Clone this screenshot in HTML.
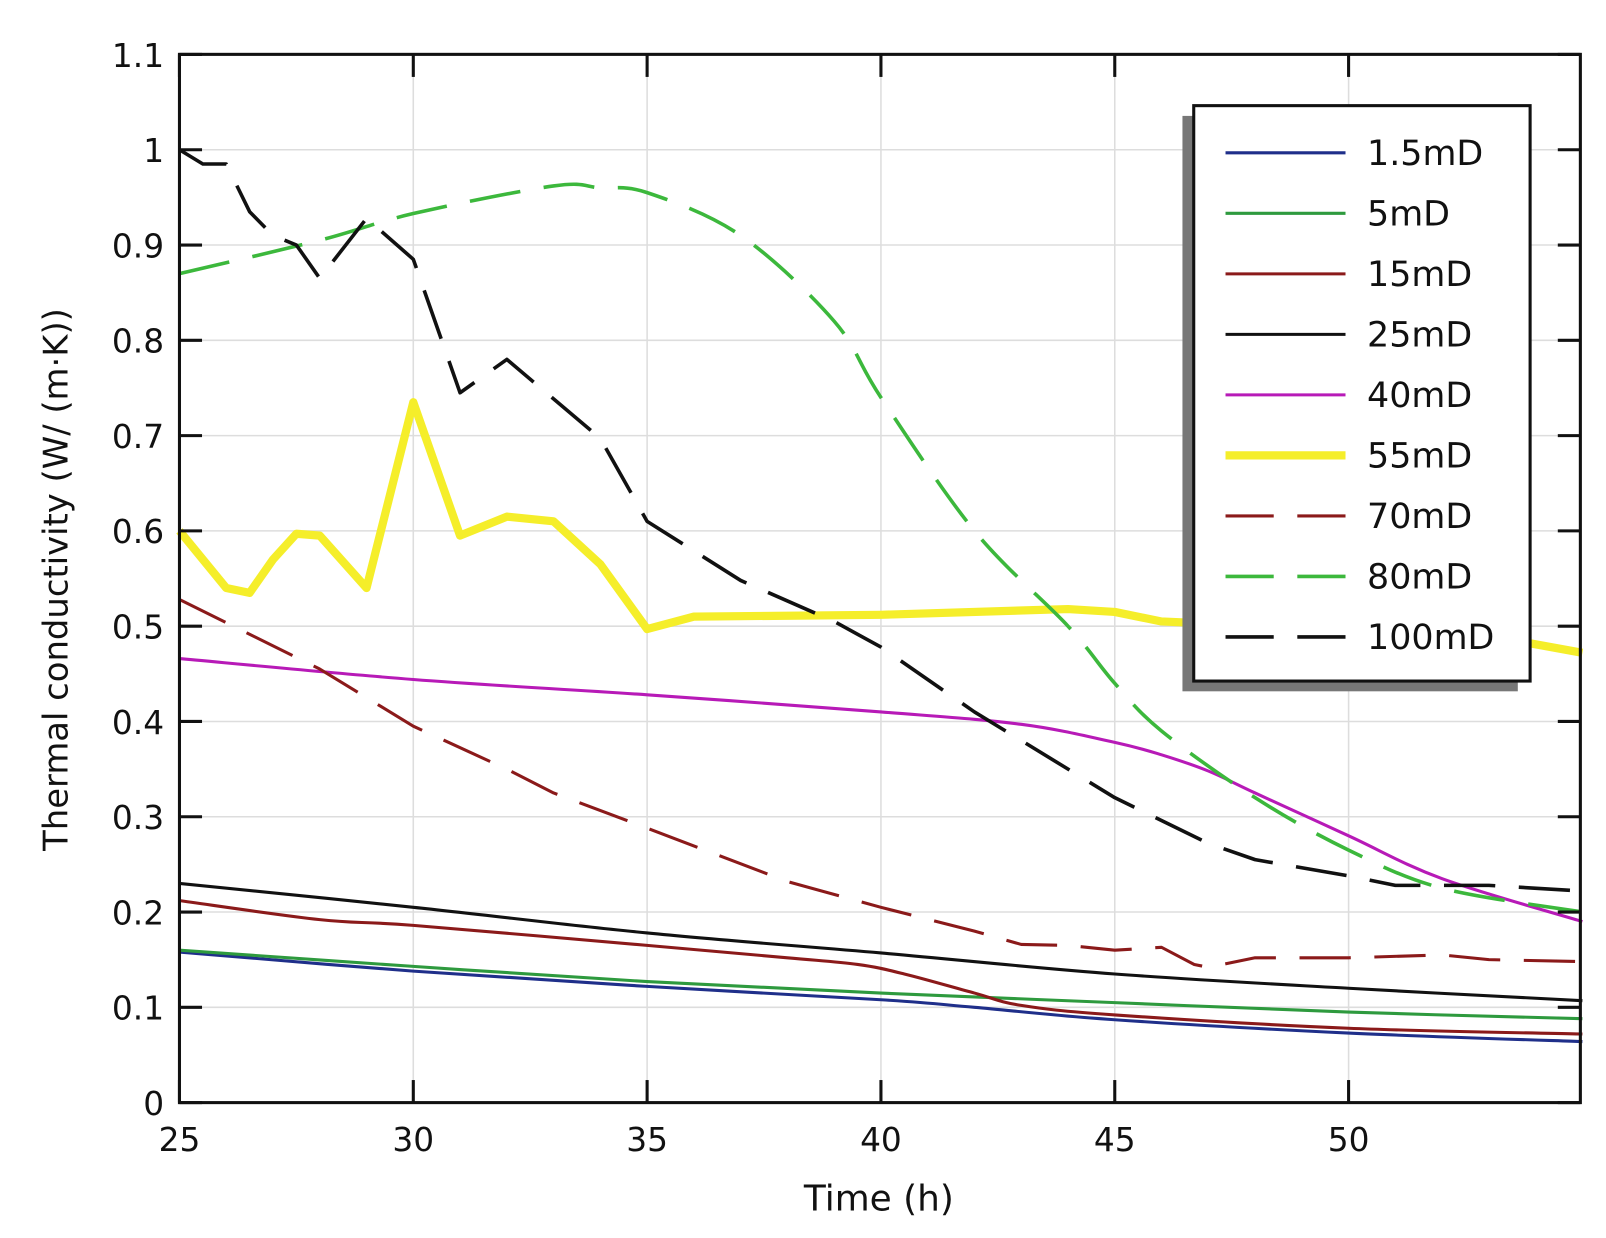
<!DOCTYPE html>
<html><head><meta charset="utf-8"><style>
html,body{margin:0;padding:0;background:#fff;}
svg{display:block;}
text{font-family:"DejaVu Sans","Liberation Sans",sans-serif;fill:#111;}
</style></head><body>
<svg id="s" width="1606" height="1238" viewBox="0 0 1566 1207" preserveAspectRatio="none" xmlns="http://www.w3.org/2000/svg">
<rect x="0" y="0" width="1566" height="1207" fill="#fff"/>
<g id="grid" stroke="#ddd" stroke-width="1.5"></g>
<g id="series" fill="none" stroke-linejoin="round" stroke-linecap="butt"></g>
<rect x="175" y="53" width="1366" height="1022" fill="none" stroke="#111" stroke-width="3"/>
<g id="ticks" stroke="#111" stroke-width="3"></g>
<g id="labels" font-size="32"></g>
<text x="857" y="1180" font-size="35" text-anchor="middle">Time   (h)</text>
<text transform="translate(66,565) rotate(-90)" font-size="33" text-anchor="middle">Thermal conductivity (W/ (m·K))</text>
<rect x="1153" y="113" width="327" height="561" fill="#777"/>
<rect x="1164" y="103" width="328" height="561" fill="#fff" stroke="#111" stroke-width="3"/>
<g id="legend" font-size="34"></g>
</svg>
<script>
const NS="http://www.w3.org/2000/svg";
const X=t=>175+45.6*(t-25), Y=v=>1075-92.9*v*10;
function el(p,tag,a,txt){const e=document.createElementNS(NS,tag);for(const k in a)e.setAttribute(k,a[k]);if(txt!=null)e.textContent=txt;document.getElementById(p).appendChild(e);return e;}
for(let t=30;t<=50;t+=5){el('grid','line',{x1:X(t),x2:X(t),y1:53,y2:1075});}
for(let i=1;i<=10;i++){const y=Y(i/10);el('grid','line',{x1:175,x2:1541,y1:y,y2:y});}
for(let t=25;t<=50;t+=5){el('ticks','line',{x1:X(t),x2:X(t),y1:1075,y2:1053});el('ticks','line',{x1:X(t),x2:X(t),y1:53,y2:75});
 el('labels','text',{x:X(t),y:1122,'text-anchor':'middle'},String(t));}
for(let i=0;i<=11;i++){const y=Y(i/10);el('ticks','line',{x1:175,x2:197,y1:y,y2:y});el('ticks','line',{x1:1519,x2:1541,y1:y,y2:y});
 el('labels','text',{x:160,y:y+12,'text-anchor':'end'},i==0?'0':i==10?'1':(i/10).toString());}
function smooth(P){let d='M'+P[0][0].toFixed(1)+' '+P[0][1].toFixed(1);
 for(let i=0;i<P.length-1;i++){const p0=P[Math.max(0,i-1)],p1=P[i],p2=P[i+1],p3=P[Math.min(P.length-1,i+2)];
 const c1=[p1[0]+(p2[0]-p0[0])/6,p1[1]+(p2[1]-p0[1])/6],c2=[p2[0]-(p3[0]-p1[0])/6,p2[1]-(p3[1]-p1[1])/6];
 d+=` C${c1[0].toFixed(1)} ${c1[1].toFixed(1)} ${c2[0].toFixed(1)} ${c2[1].toFixed(1)} ${p2[0].toFixed(1)} ${p2[1].toFixed(1)}`;}return d;}
const S=[
['#1f2f8a',3,'',[[25,.158],[30,.138],[35,.122],[40,.108],[42,.1],[45,.087],[50,.073],[55,.064]],'1.5mD',1],
['#2e9a3e',3,'',[[25,.16],[30,.143],[35,.127],[40,.115],[45,.105],[50,.095],[55,.088]],'5mD',1],
['#8b1a1a',3,'',[[25,.212],[28,.192],[30,.186],[35,.165],[38,.152],[39.5,.145],[40.5,.135],[42,.115],[43,.102],[45,.092],[50,.078],[55,.072]],'15mD',1],
['#111',3,'',[[25,.23],[30,.205],[35,.178],[40,.157],[45,.135],[50,.12],[55,.107]],'25mD',1],
['#b71ab7',3,'',[[25,.466],[30,.444],[35,.428],[40,.41],[43,.397],[45,.378],[46,.365],[47,.348],[48,.325],[50,.28],[52,.235],[55,.19]],'40mD',1],
['#f5ee2a',8,'',[[25,.6],[26,.54],[26.5,.535],[27,.57],[27.5,.597],[28,.595],[29,.54],[30,.735],[31,.595],[32,.615],[33,.61],[34,.565],[35,.497],[36,.51],[40,.512],[44,.518],[45,.515],[46,.505],[53,.49],[55,.472]],'55mD',0],
['#8b1a1a',3,'50 23',[[25,.528],[28,.455],[30,.395],[32,.35],[33,.325],[35,.288],[38,.232],[40,.205],[42,.18],[43,.166],[44,.165],[45,.16],[46,.163],[46.7,.145],[47,.142],[48,.152],[50,.152],[52,.155],[53,.15],[55,.148]],'70mD',0],
['#3cb83c',3.5,'50 23',[[25,.87],[28,.905],[30,.933],[33,.962],[34,.96],[35,.955],[37,.91],[39,.82],[40,.74],[42,.6],[44,.5],[45,.44],[46,.39],[48,.32],[50,.265],[52,.225],[55,.2]],'80mD',1],
['#111',3.5,'50 23',[[25,1.0],[25.5,.985],[26,.985],[26.5,.935],[27,.91],[27.5,.9],[28,.865],[29,.928],[30,.885],[31,.745],[32,.78],[34,.697],[35,.61],[37,.548],[39,.505],[40,.478],[42,.41],[45,.32],[47,.272],[48,.255],[50,.238],[51,.228],[53,.228],[55,.222]],'100mD',0]
];
S.forEach((s,i)=>{
 const P=s[3].map(p=>[X(p[0]),Y(p[1])]);
 const d=s[5]?smooth(P):P.map((p,j)=>(j?'L':'M')+p[0].toFixed(1)+' '+p[1].toFixed(1)).join(' ');
 const a={d:d,stroke:s[0],'stroke-width':s[1]};if(s[2])a['stroke-dasharray']=s[2];
 el('series','path',a);
 const y=149+59*i;
 const b={x1:1195,x2:1312,y1:y,y2:y,stroke:s[0],'stroke-width':s[1]};if(s[2])b['stroke-dasharray']='47 23';
 el('legend','line',b);
 el('legend','text',{x:1333,y:y+12},s[4]);
});
</script>
</body></html>
